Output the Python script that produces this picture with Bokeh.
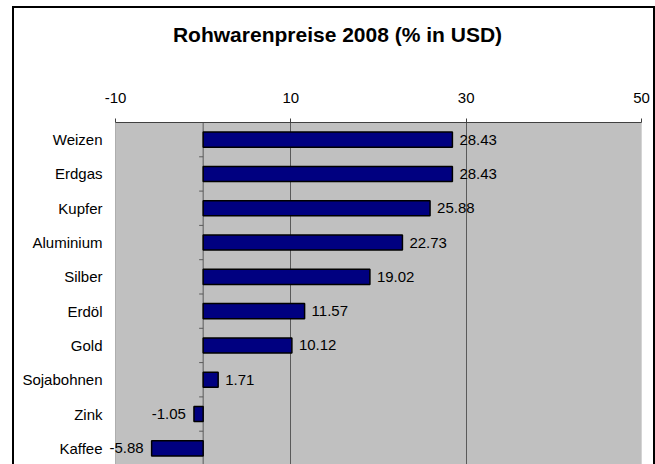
from bokeh.plotting import figure
from bokeh.models import (ColumnDataSource, Range1d, FixedTicker, Span, Label,
                          BoxAnnotation, LabelSet, InlineStyleSheet)
from bokeh.core.properties import value
from bokeh.embed import file_html
from bokeh.resources import INLINE

# ---- data ----
title_text = "Rohwarenpreise 2008 (% in USD)"
commodities = ["Weizen", "Erdgas", "Kupfer", "Aluminium", "Silber",
               "Erdöl", "Gold", "Sojabohnen", "Zink", "Kaffee"]
changes = [28.43, 28.43, 25.88, 22.73, 19.02, 11.57, 10.12, 1.71, -1.05, -5.88]
x_ticks = [-10, 10, 30, 50]
x_tick_labels = ["-10", "10", "30", "50"]

# ---- layout / style ----
W, H = 655, 464
FRAME_LEFT = 40        # canvas x where the bokeh frame starts
PLOT_LEFT = 115        # canvas x of the grey plot area (-10)
PLOT_RIGHT = 641       # canvas x of the grey plot area (50)
FRAME_TOP = 122
BAND = 34.3
FONT = "Liberation Sans"
GRID = "#5a5a5a"
n = len(commodities)
idx = list(range(n))

px_per_unit = (PLOT_RIGHT - PLOT_LEFT) / (x_ticks[-1] - x_ticks[0])
x_start = x_ticks[0] - (PLOT_LEFT - FRAME_LEFT) / px_per_unit
y_bottom = -0.5 + (H - FRAME_TOP) / BAND

p = figure(width=W, height=H, output_backend="svg", toolbar_location=None,
           x_range=Range1d(x_start, x_ticks[-1]),
           y_range=Range1d(y_bottom, -0.5),
           x_axis_location="above",
           min_border_left=FRAME_LEFT, min_border_right=W - PLOT_RIGHT,
           min_border_top=FRAME_TOP, min_border_bottom=0,
           background_fill_color="white", border_fill_color="white",
           outline_line_color=None)

# outer chart border (page decoration)
p.stylesheets = [InlineStyleSheet(css=(
    ":host{position:relative;}"
    ":host::after{content:'';position:absolute;left:12px;right:0px;top:6px;bottom:0;"
    "border:2px solid black;border-bottom:none;box-sizing:border-box;pointer-events:none;}"
))]

# grey plot area
p.add_layout(BoxAnnotation(left=x_ticks[0], right=x_ticks[-1], bottom=y_bottom + 1,
                           fill_color="#C0C0C0", fill_alpha=1,
                           line_color="#404040", line_width=1, level="image"))

# x axis (top)
xa = p.xaxis[0]
xa.ticker = FixedTicker(ticks=x_ticks)
xa.bounds = (x_ticks[0], x_ticks[-1])
xa.major_label_overrides = {t: s for t, s in zip(x_ticks, x_tick_labels)}
xa.major_tick_out = 4
xa.major_tick_in = 0
xa.minor_tick_line_color = None
xa.axis_line_color = "#404040"
xa.major_tick_line_color = "#404040"
xa.major_label_text_font = FONT
xa.major_label_text_font_size = "15px"
xa.major_label_text_color = "black"
xa.major_label_standoff = 16

# title, placed in the top panel (screen units relative to that panel)
p.add_layout(Label(x=297, y=55, x_units="screen", y_units="screen", text=title_text,
                   text_align="center", text_baseline="alphabetic",
                   text_font=FONT, text_font_size="21px", text_font_style="bold",
                   text_color="black"), "above")

# y axis (categories), labels pulled right to sit beside the grey area
ya = p.yaxis[0]
ya.ticker = FixedTicker(ticks=idx)
ya.major_label_overrides = {i: c for i, c in zip(idx, commodities)}
ya.major_tick_out = 0
ya.major_tick_in = 0
ya.major_tick_line_color = None
ya.minor_tick_line_color = None
ya.axis_line_color = None
ya.major_label_text_font = FONT
ya.major_label_text_font_size = "15px"
ya.major_label_text_color = "black"
ya.major_label_standoff = -(PLOT_LEFT - FRAME_LEFT - 13)

p.ygrid.grid_line_color = None
p.xgrid.ticker = FixedTicker(ticks=x_ticks[1:-1])
p.xgrid.grid_line_color = GRID
p.xgrid.grid_line_width = 1

# category axis line at zero with boundary ticks
p.add_layout(Span(location=0, dimension="height", line_color=GRID, line_width=1,
                  level="underlay"))
tick_len = 4 / px_per_unit
bounds = [i - 0.5 for i in idx[1:]]
p.segment(x0=[-tick_len] * len(bounds), x1=[0] * len(bounds), y0=bounds, y1=bounds,
          line_color=GRID, line_width=1)

# bars
labels = [f"{v:.2f}" for v in changes]
src = ColumnDataSource(dict(
    y=idx, v=changes, lab=labels,
    align=["left" if v >= 0 else "right" for v in changes],
    off=[7 if v >= 0 else -8 for v in changes],
))
p.hbar(y="y", left=0, right="v", height=0.44, source=src,
       fill_color="#000080", line_color="black", line_width=1.5)

p.add_layout(LabelSet(x="v", y="y", text="lab", source=src, x_offset="off",
                      text_align="align", text_baseline="middle",
                      text_font=value(FONT), text_font_size=value("15px"),
                      text_color="black"))

open("out.html", "w").write(file_html(p, INLINE))
